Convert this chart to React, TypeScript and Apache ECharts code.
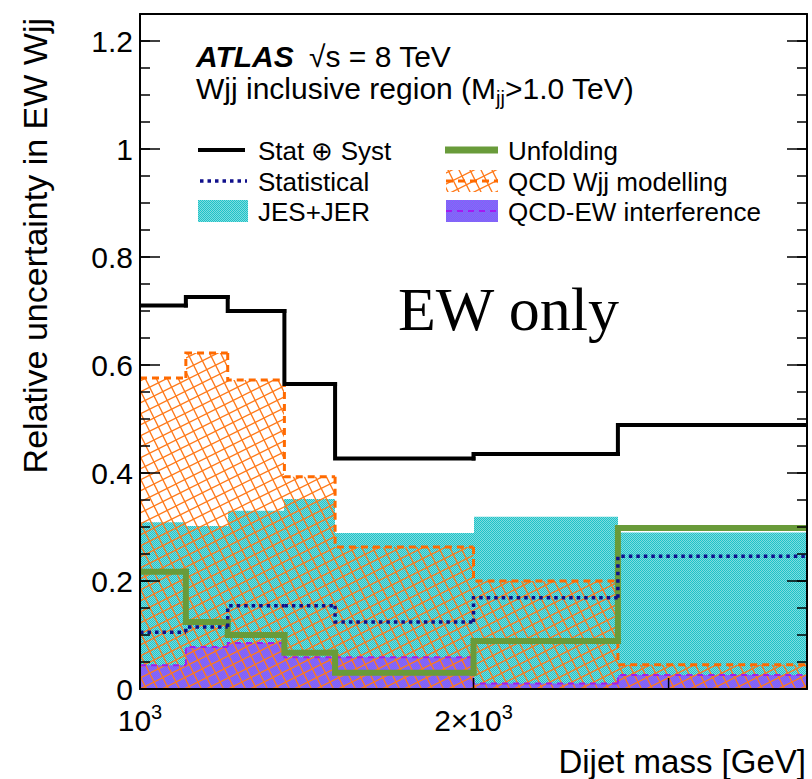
import React, { useEffect, useRef } from "react";
import * as echarts from "echarts";

// Dijet-mass bin edges [GeV] and the relative uncertainty per bin
const binEdges = [1000, 1100, 1200, 1350, 1500, 2000, 2700, 4000];
const statSyst = [0.71, 0.726, 0.7, 0.565, 0.427, 0.435, 0.489];
const statistical = [0.105, 0.115, 0.154, 0.154, 0.124, 0.169, 0.246];
const jesJer = [0.309, 0.302, 0.33, 0.352, 0.289, 0.319, 0.29];
const unfolding = [0.217, 0.124, 0.1, 0.067, 0.03, 0.089, 0.298];
const qcdWjj = [0.576, 0.622, 0.572, 0.393, 0.263, 0.2, 0.045];
const qcdEwInterference = [0.044, 0.078, 0.085, 0.059, 0.059, 0.01, 0.026];

// Axis ticks and labels
const yTickLabels = [0, 0.2, 0.4, 0.6, 0.8, 1, 1.2];
const xTickValues = [2000, 3000];
const xLabelValues = [1000, 2000];
const xLabelMantissas = ["10", "2×10"];
const xLabelExponent = "3";

const SANS = "'Liberation Sans', Arial, Helvetica, sans-serif";

function checker(a: string, b: string) {
  const c = document.createElement("canvas");
  c.width = 2;
  c.height = 2;
  const g = c.getContext("2d")!;
  g.fillStyle = a;
  g.fillRect(0, 0, 2, 2);
  g.fillStyle = b;
  g.fillRect(1, 0, 1, 1);
  g.fillRect(0, 1, 1, 1);
  return { image: c, repeat: "repeat", imageWidth: 2, imageHeight: 2 };
}

function crossHatch(color: string) {
  const N = 22;
  const c = document.createElement("canvas");
  c.width = N;
  c.height = N;
  const g = c.getContext("2d")!;
  g.strokeStyle = color;
  g.lineWidth = 1.3;
  for (let k = -4 * N; k <= 5 * N; k += N) {
    g.beginPath();
    g.moveTo(k + 2 * N, -N);
    g.lineTo(k - 4 * N, 2 * N);
    g.stroke();
    g.beginPath();
    g.moveTo(-N, -2 * N - k);
    g.lineTo(2 * N, 4 * N - k);
    g.stroke();
  }
  return { image: c, repeat: "repeat", imageWidth: N, imageHeight: N };
}

function fillSeries(name: string, values: number[], fill: any, z: number) {
  return {
    type: "custom",
    name,
    clip: true,
    z,
    data: values.map((v, i) => [binEdges[i], binEdges[i + 1], v]),
    encode: { x: [0, 1], y: 2 },
    renderItem: (_p: any, api: any) => {
      const a = api.coord([api.value(0), api.value(2)]);
      const b = api.coord([api.value(1), 0]);
      const x0 = Math.round(a[0]);
      const x1 = Math.round(b[0]);
      return {
        type: "rect",
        shape: { x: x0, y: a[1], width: x1 - x0, height: b[1] - a[1] },
        style: { fill, stroke: "none" },
      };
    },
  };
}

function stepSeries(
  name: string,
  values: number[],
  stroke: string,
  width: number,
  dash: number[] | null,
  z: number
) {
  return {
    type: "custom",
    name,
    clip: true,
    z,
    data: values.map((v, i) => [binEdges[i], binEdges[i + 1], v, i > 0 ? values[i - 1] : v]),
    encode: { x: [0, 1], y: 2 },
    renderItem: (_p: any, api: any) => {
      const x0 = api.value(0);
      const x1 = api.value(1);
      const v = api.value(2);
      const prev = api.value(3);
      const pts = [api.coord([x0, prev]), api.coord([x0, v]), api.coord([x1, v])];
      return {
        type: "polyline",
        shape: { points: pts },
        style: {
          stroke,
          lineWidth: width,
          lineDash: dash || undefined,
          fill: "none",
          lineJoin: "miter",
          lineCap: dash ? "butt" : "square",
        },
      };
    },
  };
}

export default function App() {
  const ref = useRef<HTMLDivElement>(null);

  useEffect(() => {
    if (!ref.current) return;
    const chart = echarts.init(ref.current, null, { renderer: "svg" });

    const cyanFill = checker("#1fc3c8", "#7fdcdf");
    const purpleFill = checker("#9a4dff", "#6b7cf2");
    const orangeHatch = crossHatch("#ff7a1a");

    const axisLine = { show: true, onZero: false, lineStyle: { color: "#000", width: 2 } };
    const tickStyle = { color: "#000", width: 1.5 };

    const yMajor = (position: string, labels: boolean) => ({
      type: "value",
      min: 0,
      max: 1.25,
      interval: 0.2,
      position,
      z: 10,
      axisLine,
      axisTick: { show: true, inside: true, length: 20, lineStyle: tickStyle, customValues: yTickLabels },
      axisLabel: labels
        ? {
            show: true,
            customValues: yTickLabels,
            formatter: (v: number) =>
              yTickLabels.some((t) => Math.abs(t - v) < 1e-6) ? String(Math.round(v * 100) / 100) : "",
            fontSize: 30,
            fontFamily: SANS,
            color: "#000",
            margin: 7,
          }
        : { show: false },
      splitLine: { show: false },
    });
    const yMinor = (position: string) => ({
      type: "value",
      min: 0,
      max: 1.25,
      interval: 0.05,
      position,
      z: 10,
      axisLine: { show: false },
      axisTick: { show: true, inside: true, length: 10, lineStyle: tickStyle },
      axisLabel: { show: false },
      splitLine: { show: false },
    });
    const xLog = (position: string) => ({
      type: "log",
      logBase: 10,
      min: 1000,
      max: 4000,
      position,
      z: 10,
      axisLine,
      axisTick: { show: false },
      minorTick: { show: false },
      axisLabel: { show: false },
      splitLine: { show: false },
      minorSplitLine: { show: false },
    });

    const legendText = (x: number, y: number, text: string) => ({
      type: "text",
      x,
      y,
      z: 30,
      style: { text, fontSize: 26, fontFamily: SANS, fill: "#000", verticalAlign: "middle" },
    });

    chart.setOption({
      animation: false,
      grid: { left: 140, right: 5, top: 14, bottom: 90, containLabel: false },
      xAxis: [xLog("bottom"), xLog("top")],
      yAxis: [yMajor("left", true), yMinor("left"), yMajor("right", false), yMinor("right")],
      series: [
        fillSeries("JES+JER", jesJer, cyanFill, 2),
        fillSeries("QCD-EW interference", qcdEwInterference, purpleFill, 3),
        fillSeries("QCD Wjj modelling", qcdWjj, orangeHatch, 4),
        stepSeries("QCD-EW interference outline", qcdEwInterference, "#a21cf0", 2, [6, 5], 5),
        stepSeries("QCD Wjj modelling outline", qcdWjj, "#ff6a00", 3, [7, 5], 6),
        stepSeries("Unfolding", unfolding, "#699b3a", 6, null, 7),
        stepSeries("Statistical", statistical, "#10108c", 3.5, [3.5, 4], 8),
        stepSeries("Stat ⊕ Syst", statSyst, "#000000", 4, null, 9),
        {
          type: "custom",
          name: "x ticks",
          clip: false,
          z: 12,
          data: xTickValues.map((v) => [v, 0]),
          encode: { x: 0, y: 1 },
          renderItem: (_p: any, api: any) => {
            const pt = api.coord([api.value(0), 0]);
            return {
              type: "line",
              shape: { x1: pt[0], y1: pt[1], x2: pt[0], y2: pt[1] - 11 },
              style: { stroke: "#000", lineWidth: 1.5 },
            };
          },
        },
        {
          type: "custom",
          name: "x labels",
          clip: false,
          z: 12,
          data: xLabelValues.map((v, i) => [v, 0, i]),
          encode: { x: 0, y: 1 },
          renderItem: (_p: any, api: any) => {
            const pt = api.coord([api.value(0), 0]);
            const i = api.value(2);
            return {
              type: "text",
              x: pt[0],
              y: pt[1] + 13,
              style: {
                text: `{b|${xLabelMantissas[i]}}{s|${xLabelExponent}}`,
                rich: {
                  b: { fontSize: 30, lineHeight: 36, fontFamily: SANS, fill: "#000" },
                  s: { fontSize: 20, lineHeight: 16, fontFamily: SANS, fill: "#000", verticalAlign: "top" },
                },
                align: "center",
                verticalAlign: "top",
                fill: "#000",
              },
            };
          },
        },
      ],
      graphic: [
        {
          type: "text",
          x: 35,
          y: 18,
          rotation: Math.PI / 2,
          style: {
            text: "Relative uncertainty in EW Wjj",
            fontSize: 34,
            fontFamily: SANS,
            fill: "#000",
            align: "right",
            verticalAlign: "middle",
          },
        },
        {
          type: "text",
          x: 806,
          y: 761,
          style: {
            text: "Dijet mass [GeV]",
            fontSize: 33,
            fontFamily: SANS,
            fill: "#000",
            align: "right",
            verticalAlign: "middle",
          },
        },
        {
          type: "text",
          x: 196,
          y: 56,
          z: 30,
          style: {
            text: "ATLAS",
            fontSize: 30,
            fontWeight: "bold",
            fontStyle: "italic",
            fontFamily: SANS,
            fill: "#000",
            verticalAlign: "middle",
          },
        },
        {
          type: "text",
          x: 309,
          y: 56,
          z: 30,
          style: { text: "√s = 8 TeV", fontSize: 30, fontFamily: SANS, fill: "#000", verticalAlign: "middle" },
        },
        {
          type: "text",
          x: 196,
          y: 88,
          z: 30,
          style: {
            text: "{a|Wjj inclusive region (M}{s|jj}{a|>1.0 TeV)}",
            rich: {
              a: { fontSize: 30, lineHeight: 40, fontFamily: SANS, fill: "#000" },
              s: { fontSize: 20, lineHeight: 20, fontFamily: SANS, fill: "#000", verticalAlign: "bottom" },
            },
            verticalAlign: "middle",
          },
        },
        {
          type: "text",
          x: 398,
          y: 309,
          z: 30,
          style: {
            text: "EW only",
            fontSize: 62,
            fontFamily: "'Liberation Serif', 'Times New Roman', serif",
            fill: "#000",
            verticalAlign: "middle",
          },
        },
        // legend, left column
        { type: "line", z: 30, shape: { x1: 198, y1: 150, x2: 245, y2: 150 }, style: { stroke: "#000", lineWidth: 4 } },
        legendText(258, 151, "Stat ⊕ Syst"),
        {
          type: "line",
          z: 30,
          shape: { x1: 200, y1: 181, x2: 247, y2: 181 },
          style: { stroke: "#10108c", lineWidth: 3.5, lineDash: [3.5, 4] },
        },
        legendText(258, 182, "Statistical"),
        { type: "rect", z: 30, shape: { x: 198, y: 200, width: 50, height: 22 }, style: { fill: cyanFill } },
        legendText(258, 212, "JES+JER"),
        // legend, right column
        { type: "line", z: 30, shape: { x1: 445, y1: 150, x2: 498, y2: 150 }, style: { stroke: "#699b3a", lineWidth: 7 } },
        legendText(508, 151, "Unfolding"),
        { type: "rect", z: 30, shape: { x: 446, y: 170, width: 52, height: 22 }, style: { fill: orangeHatch } },
        {
          type: "line",
          z: 31,
          shape: { x1: 446, y1: 181, x2: 498, y2: 181 },
          style: { stroke: "#ff6a00", lineWidth: 3, lineDash: [7, 5] },
        },
        legendText(508, 182, "QCD Wjj modelling"),
        { type: "rect", z: 30, shape: { x: 446, y: 200, width: 52, height: 22 }, style: { fill: purpleFill } },
        {
          type: "line",
          z: 31,
          shape: { x1: 446, y1: 211, x2: 498, y2: 211 },
          style: { stroke: "#a21cf0", lineWidth: 2, lineDash: [6, 5] },
        },
        legendText(508, 212, "QCD-EW interference"),
      ],
    });

    return () => chart.dispose();
  }, []);

  return (
    <div
      ref={ref}
      style={{ position: "absolute", left: 0, top: 0, width: 812, height: 779, background: "#fff" }}
    />
  );
}
